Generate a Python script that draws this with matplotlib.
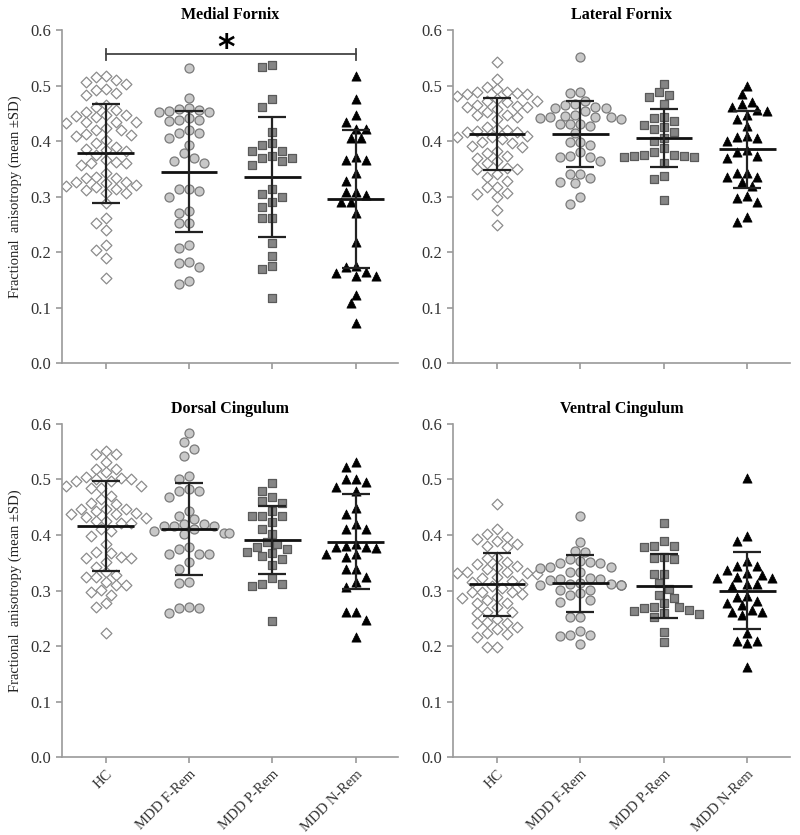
import numpy as np
import matplotlib
matplotlib.use("Agg")
import matplotlib.pyplot as plt

plt.rcParams['font.family'] = ['Liberation Serif', 'DejaVu Serif']

groups = ['HC', 'MDD F-Rem', 'MDD P-Rem', 'MDD N-Rem']
titles = ['Medial Fornix', 'Lateral Fornix', 'Dorsal Cingulum', 'Ventral Cingulum']

# --- fractional anisotropy ---
medial_hc = [0.518, 0.510, 0.516, 0.503, 0.507, 0.492, 0.486, 0.483, 0.494,
             0.465, 0.456, 0.453, 0.461, 0.447, 0.446, 0.443, 0.447,
             0.434, 0.432, 0.435, 0.435, 0.423, 0.420, 0.420,
             0.413, 0.410, 0.402, 0.411, 0.396, 0.390, 0.386, 0.383, 0.384, 0.375,
             0.366, 0.360, 0.363, 0.360, 0.357,
             0.336, 0.333, 0.327, 0.324, 0.327, 0.333, 0.342,
             0.321, 0.318, 0.314, 0.312, 0.319, 0.306, 0.307,
             0.288, 0.261, 0.252, 0.240, 0.213, 0.204, 0.189, 0.153]
medial_frem = [0.532, 0.477, 0.456, 0.453, 0.458, 0.459, 0.453, 0.455,
               0.441, 0.438, 0.437, 0.438, 0.420, 0.414, 0.414, 0.405, 0.393,
               0.378, 0.369, 0.361, 0.364, 0.314, 0.311, 0.300, 0.314,
               0.271, 0.275, 0.252, 0.252, 0.207, 0.213, 0.180, 0.174, 0.183,
               0.143, 0.149]
medial_prem = [0.537, 0.534, 0.476, 0.462, 0.417, 0.393, 0.396, 0.383, 0.383,
               0.369, 0.365, 0.369, 0.373, 0.357, 0.314, 0.305, 0.300, 0.291,
               0.282, 0.261, 0.261, 0.216, 0.194, 0.175, 0.169, 0.118]
medial_nrem = [0.518, 0.476, 0.447, 0.435, 0.422, 0.422, 0.405, 0.405, 0.371,
               0.366, 0.366, 0.343, 0.329, 0.308, 0.303, 0.308, 0.290, 0.291,
               0.271, 0.219, 0.173, 0.175, 0.163, 0.157, 0.157, 0.165,
               0.123, 0.108, 0.072]

lateral_hc = [0.542, 0.512, 0.498, 0.489, 0.486, 0.485, 0.482, 0.485, 0.488, 0.494,
              0.476, 0.473, 0.465, 0.461, 0.464, 0.461, 0.470, 0.473, 0.458,
              0.452, 0.447, 0.443, 0.447, 0.440, 0.426, 0.422, 0.419, 0.417,
              0.416, 0.420, 0.410, 0.407, 0.407, 0.404, 0.399, 0.397, 0.390,
              0.392, 0.383, 0.379, 0.373, 0.370, 0.364, 0.360, 0.351, 0.350,
              0.350, 0.341, 0.336, 0.329, 0.318, 0.318, 0.306, 0.300, 0.304,
              0.276, 0.249]
lateral_frem = [0.551, 0.489, 0.486, 0.473, 0.467, 0.465, 0.461, 0.459, 0.459,
                0.455, 0.446, 0.443, 0.441, 0.440, 0.443, 0.443, 0.447, 0.431,
                0.431, 0.428, 0.431, 0.414, 0.399, 0.393, 0.399, 0.381, 0.371,
                0.364, 0.371, 0.373, 0.340, 0.326, 0.324, 0.333, 0.340, 0.300,
                0.287]
lateral_prem = [0.503, 0.488, 0.483, 0.479, 0.467, 0.443, 0.441, 0.437, 0.429,
                0.425, 0.422, 0.416, 0.405, 0.401, 0.387, 0.381, 0.375, 0.374,
                0.372, 0.371, 0.374, 0.375, 0.360, 0.338, 0.332, 0.294]
lateral_nrem = [0.500, 0.485, 0.471, 0.461, 0.455, 0.456, 0.467, 0.447, 0.440,
                0.428, 0.410, 0.405, 0.401, 0.408, 0.381, 0.384, 0.369, 0.373,
                0.336, 0.343, 0.342, 0.336, 0.327, 0.319, 0.297, 0.290, 0.301,
                0.255, 0.264]

dorsal_hc = [0.545, 0.551, 0.546, 0.531, 0.519, 0.513, 0.518, 0.505, 0.501,
             0.497, 0.500, 0.497, 0.503, 0.488, 0.485, 0.485, 0.489, 0.471,
             0.464, 0.456, 0.458, 0.447, 0.447, 0.447, 0.443, 0.438, 0.437,
             0.440, 0.431, 0.432, 0.422, 0.425, 0.422, 0.425, 0.410, 0.407,
             0.398, 0.383, 0.369, 0.361, 0.359, 0.352, 0.359, 0.368, 0.343,
             0.334, 0.328, 0.324, 0.325, 0.316, 0.310, 0.310, 0.301, 0.298,
             0.292, 0.277, 0.271, 0.223]
dorsal_frem = [0.583, 0.567, 0.555, 0.542, 0.507, 0.501, 0.483, 0.479, 0.479,
               0.468, 0.444, 0.434, 0.429, 0.419, 0.420, 0.417, 0.417, 0.417,
               0.410, 0.407, 0.404, 0.404, 0.401, 0.374, 0.365, 0.365, 0.365,
               0.378, 0.352, 0.338, 0.316, 0.313, 0.268, 0.259, 0.268, 0.270]
dorsal_prem = [0.494, 0.480, 0.468, 0.462, 0.458, 0.444, 0.434, 0.434, 0.434,
               0.423, 0.411, 0.402, 0.387, 0.383, 0.378, 0.370, 0.374, 0.368,
               0.363, 0.356, 0.346, 0.323, 0.312, 0.309, 0.312, 0.246]
dorsal_nrem = [0.531, 0.522, 0.501, 0.495, 0.500, 0.487, 0.480, 0.449, 0.437,
               0.419, 0.411, 0.411, 0.384, 0.377, 0.380, 0.378, 0.378, 0.365,
               0.361, 0.365, 0.338, 0.338, 0.325, 0.316, 0.307, 0.261, 0.261,
               0.247, 0.216]

ventral_hc = [0.455, 0.410, 0.401, 0.397, 0.393, 0.389, 0.384, 0.380, 0.378,
              0.359, 0.361, 0.351, 0.347, 0.345, 0.343, 0.333, 0.331, 0.330,
              0.331, 0.333, 0.325, 0.322, 0.315, 0.312, 0.318, 0.298, 0.297,
              0.294, 0.289, 0.298, 0.286, 0.283, 0.277, 0.277, 0.262, 0.262,
              0.259, 0.249, 0.243, 0.241, 0.241, 0.235, 0.231, 0.222, 0.217,
              0.223, 0.198, 0.198, 0.305, 0.308, 0.270, 0.338]
ventral_frem = [0.435, 0.387, 0.370, 0.372, 0.354, 0.350, 0.343, 0.341, 0.343,
                0.350, 0.352, 0.356, 0.334, 0.333, 0.322, 0.321, 0.319, 0.321,
                0.313, 0.312, 0.310, 0.310, 0.310, 0.310, 0.312, 0.301, 0.295,
                0.301, 0.292, 0.283, 0.280, 0.252, 0.253, 0.228, 0.220, 0.219,
                0.220, 0.204]
ventral_prem = [0.422, 0.381, 0.378, 0.380, 0.389, 0.359, 0.357, 0.361, 0.330,
                0.330, 0.313, 0.303, 0.292, 0.286, 0.277, 0.271, 0.265, 0.271,
                0.259, 0.258, 0.253, 0.264, 0.268, 0.226, 0.208]
ventral_nrem = [0.503, 0.399, 0.390, 0.354, 0.345, 0.337, 0.345, 0.331, 0.328,
                0.324, 0.323, 0.323, 0.312, 0.309, 0.312, 0.289, 0.291, 0.282,
                0.277, 0.274, 0.265, 0.262, 0.262, 0.256, 0.224, 0.210, 0.206,
                0.210, 0.163]

panels = [
    [medial_hc, medial_frem, medial_prem, medial_nrem],
    [lateral_hc, lateral_frem, lateral_prem, lateral_nrem],
    [dorsal_hc, dorsal_frem, dorsal_prem, dorsal_nrem],
    [ventral_hc, ventral_frem, ventral_prem, ventral_nrem],
]

# mean and SD as drawn in the figure
means = [[0.378, 0.345, 0.335, 0.296],
         [0.413, 0.413, 0.406, 0.385],
         [0.416, 0.411, 0.391, 0.388],
         [0.311, 0.313, 0.308, 0.300]]
sds = [[0.089, 0.109, 0.108, 0.124],
       [0.065, 0.060, 0.052, 0.070],
       [0.081, 0.083, 0.061, 0.085],
       [0.057, 0.051, 0.057, 0.069]]

styles = [
    dict(marker='D', s=30, facecolors='white', edgecolors='#8c8c8c', linewidths=0.9),
    dict(marker='o', s=42, facecolors='#c8c8c8', edgecolors='#7a7a7a', linewidths=0.9),
    dict(marker='s', s=34, facecolors='#858585', edgecolors='#5a5a5a', linewidths=0.9),
    dict(marker='^', s=44, facecolors='black', edgecolors='black', linewidths=0.5),
]


def swarm(vals, diam=9.5, step=5.0, xpx=83.3, ypx=555.0):
    # beeswarm on a half-marker grid, closest free spot to the center wins
    vals = np.asarray(vals)
    order = np.argsort(-vals)
    placed = []
    offs = np.zeros(len(vals))
    grid = np.arange(-8, 9) * step
    cands = sorted(grid, key=lambda c: (abs(c), c))
    for i in order:
        y = vals[i] * ypx
        for c in cands:
            if all((c - px) ** 2 + (y - py) ** 2 >= diam ** 2 for px, py in placed):
                break
        placed.append((c, y))
        offs[i] = c / xpx
    return offs


fig = plt.figure(figsize=(8, 8.35), dpi=100)
rects = [[0.0771, 0.5649, 0.4204, 0.3992], [0.5659, 0.5649, 0.4216, 0.3992],
         [0.0771, 0.0931, 0.4204, 0.3992], [0.5659, 0.0931, 0.4216, 0.3992]]
pos = np.arange(1, 5)

for k, rect in enumerate(rects):
    ax = fig.add_axes(rect)
    for g, vals in enumerate(panels[k]):
        x = pos[g] + swarm(vals)
        ax.scatter(x, vals, zorder=2, **styles[g])
    ax.hlines(means[k], pos - 0.34, pos + 0.34, color='#111111', lw=2, zorder=3)
    ax.errorbar(pos, means[k], yerr=sds[k], fmt='none', ecolor='#222222',
                elinewidth=1.6, capsize=10, capthick=1.6, zorder=3)

    ax.set_xlim(0.47, 4.51)
    ax.set_ylim(0, 0.6)
    ax.set_yticks(np.arange(0, 0.61, 0.1))
    ax.set_yticklabels([f'{t:.1f}' for t in np.arange(0, 0.61, 0.1)])
    ax.set_xticks(pos)
    for s in ['top', 'right']:
        ax.spines[s].set_visible(False)
    for s in ['left', 'bottom']:
        ax.spines[s].set_color('#9a9a9a')
        ax.spines[s].set_linewidth(1.2)
    ax.tick_params(colors='#9a9a9a', labelcolor='#333333', labelsize=12,
                   length=4, width=1.2)
    ax.set_title(titles[k], fontsize=11.5, fontweight='bold', pad=8)
    if k >= 2:
        ax.set_xticklabels(groups, rotation=45, ha='right', rotation_mode='anchor',
                           fontsize=10.5)
    else:
        ax.set_xticklabels([])
    if k % 2 == 0:
        ax.set_ylabel('Fractional  anisotropy (mean \u00b1SD)', fontsize=10.5,
                      color='#222222', labelpad=6)

    if k == 0:
        # significance bracket HC vs N-Rem
        ax.plot([1, 4], [0.556, 0.556], color='#444444', lw=1.3)
        ax.plot([1, 1], [0.546, 0.566], color='#444444', lw=1.3)
        ax.plot([4, 4], [0.546, 0.566], color='#444444', lw=1.3)
        ax.text(2.45, 0.566, '*', fontsize=24, fontweight='bold',
                ha='center', va='center', family='DejaVu Sans')

fig.savefig('out.png', dpi=100)
